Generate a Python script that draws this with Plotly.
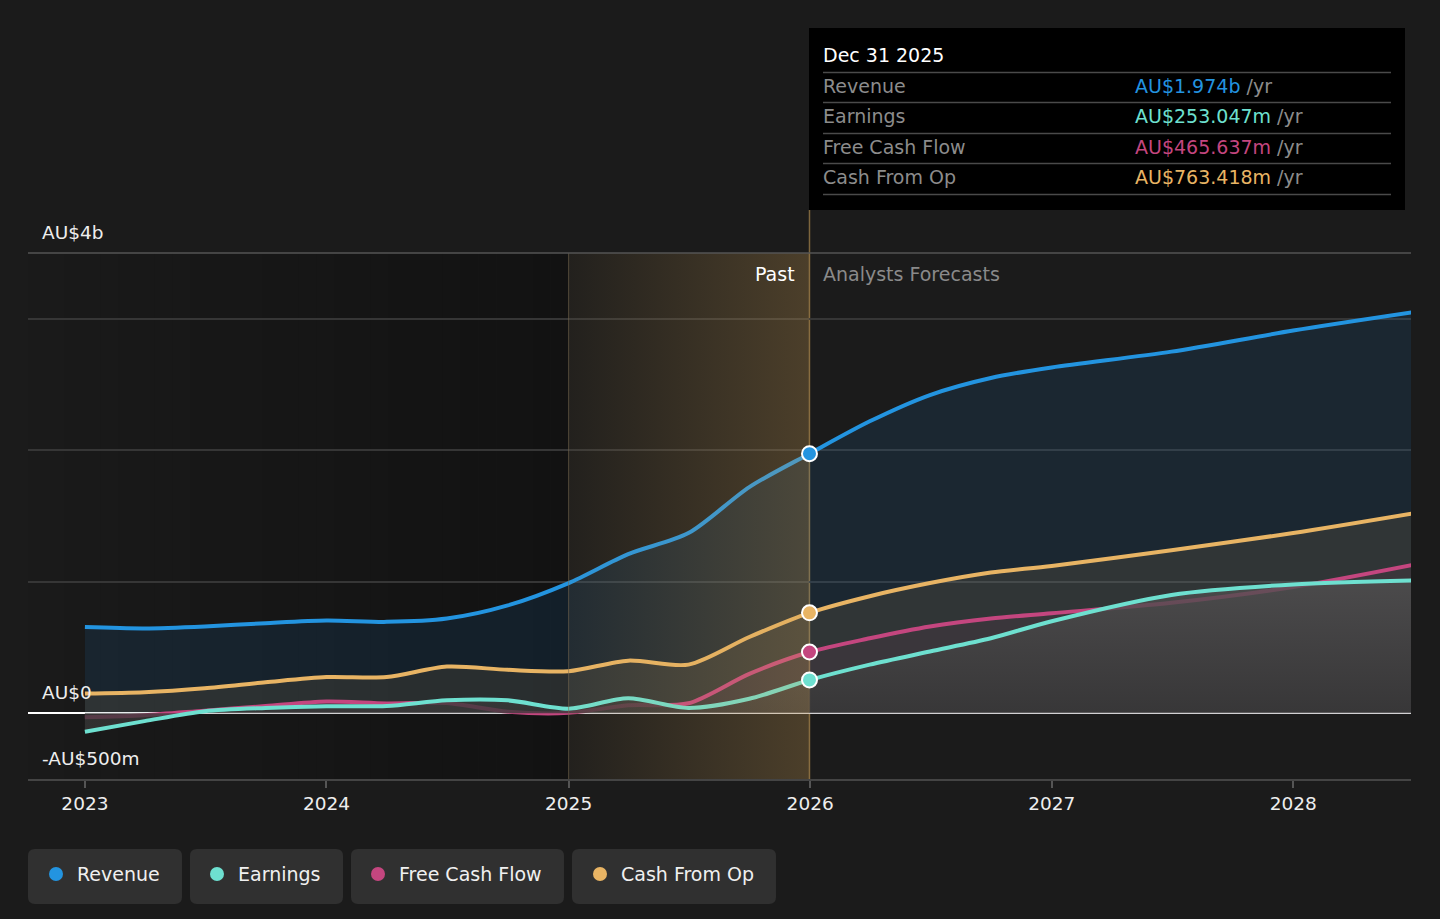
import plotly.graph_objects as go
import pandas as pd

# ---------------- data (AU$ billions) ----------------
dates = ["2023-01-01", "2023-04-01", "2023-07-01", "2023-10-01", "2024-01-01", "2024-04-01",
         "2024-07-01", "2024-10-01", "2025-01-01", "2025-04-01", "2025-07-01", "2025-10-01",
         "2025-12-31", "2026-04-01", "2026-07-01", "2026-10-01", "2027-01-01", "2027-07-01",
         "2028-01-01", "2028-07-01"]
revenue = [0.655, 0.645, 0.66, 0.685, 0.705, 0.695, 0.72, 0.82, 0.99, 1.21, 1.37, 1.72,
           1.974, 2.22, 2.42, 2.55, 2.63, 2.75, 2.91, 3.05]
earnings = [-0.14, -0.06, 0.015, 0.04, 0.053, 0.055, 0.098, 0.098, 0.035, 0.114, 0.04, 0.11,
            0.253047, 0.37, 0.47, 0.57, 0.70, 0.90, 0.98, 1.01]
free_cash_flow = [-0.03, -0.015, 0.02, 0.055, 0.09, 0.075, 0.078, 0.012, 0.003, 0.06, 0.076, 0.30,
                  0.465637, 0.57, 0.66, 0.72, 0.76, 0.84, 0.96, 1.13]
cash_from_op = [0.15, 0.16, 0.19, 0.235, 0.275, 0.275, 0.355, 0.33, 0.32, 0.40, 0.37, 0.58,
                0.763418, 0.89, 0.99, 1.07, 1.12, 1.24, 1.37, 1.52]

series_names = ["Revenue", "Earnings", "Free Cash Flow", "Cash From Op"]
year_ticks = ["2023-01-01", "2024-01-01", "2025-01-01", "2026-01-01", "2027-01-01", "2028-01-01"]
year_labels = ["2023", "2024", "2025", "2026", "2027", "2028"]
y_label_vals = [3.5, 0, -0.5]
y_label_text = ["AU$4b", "AU$0", "-AU$500m"]
tooltip_date = "Dec 31 2025"
past_start = "2025-01-01"
now_date = "2025-12-31"
x_range = ["2022-10-07", "2028-06-27"]
y_range = [-0.5, 3.5]

# ---------------- style ----------------
BG = "#1b1b1b"
C_REV = "#2394e0"
C_EARN = "#6ee0d0"
C_FCF = "#c4467f"
C_CFO = "#e8b464"
FONT = "DejaVu Sans"

W, H = 1440, 919
L, R, T, B = 28, 29, 253, 140
PW, PH = W - L - R, H - T - B


def pxx(x):
    return (x - L) / PW


def pxy(y):
    return (H - B - y) / PH


fig = go.Figure()

series = [
    (revenue, C_REV, dict(fillcolor="rgba(33,150,243,0.10)")),
    (cash_from_op, C_CFO, dict(fillcolor="rgba(232,181,99,0.10)")),
    (free_cash_flow, C_FCF, dict(fillcolor="rgba(197,70,127,0.07)")),
    (earnings, C_EARN, dict(fillgradient=dict(type="vertical", start=0, stop=1.0,
                                              colorscale=[[0, "rgba(55,55,55,0.78)"],
                                                          [1, "rgba(80,80,80,0.78)"]]))),
]
for vals, col, fillkw in series:
    fig.add_trace(go.Scatter(
        x=dates, y=vals, mode="lines", line=dict(color=col, width=4, shape="spline", smoothing=0.8),
        fill="tozeroy", hoverinfo="skip", **fillkw))

# past band overlay (above lines, below markers)
fig.add_trace(go.Scatter(
    x=[past_start, now_date, now_date, past_start, past_start],
    y=[y_range[0], y_range[0], y_range[1], y_range[1], y_range[0]],
    mode="none", fill="toself", hoverinfo="skip",
    fillgradient=dict(type="horizontal",
                      colorscale=[[0, "rgba(215,165,85,0.04)"], [1, "rgba(215,165,85,0.26)"]])))

ni = dates.index(now_date)
for vals, col, _ in series:
    fig.add_trace(go.Scatter(
        x=[dates[ni]], y=[vals[ni]], mode="markers",
        marker=dict(size=15, color=col, line=dict(color="white", width=2)), hoverinfo="skip"))

shapes = []
# darker past region gradient
t0 = pd.Timestamp(x_range[0])
t1 = pd.Timestamp(past_start)
N = 30
for i in range(N):
    a = t0 + (t1 - t0) * i / N
    b = t0 + (t1 - t0) * (i + 1) / N
    alpha = 0.02 + 0.30 * (i + 0.5) / N
    shapes.append(dict(type="rect", xref="x", yref="paper", x0=a, x1=b, y0=0, y1=1,
                       fillcolor=f"rgba(0,0,0,{alpha:.3f})", line=dict(width=0), layer="below"))
# vertical lines
shapes.append(dict(type="line", xref="x", yref="paper", x0=past_start, x1=past_start, y0=0, y1=1,
                   line=dict(color="rgba(120,105,80,0.6)", width=1)))
shapes.append(dict(type="line", xref="x", yref="paper", x0=now_date, x1=now_date, y0=0, y1=pxy(210),
                   line=dict(color="rgba(150,120,70,0.8)", width=1.5), layer="below"))
# top line of plot
shapes.append(dict(type="line", xref="paper", yref="paper", x0=0, x1=1, y0=1, y1=1,
                   line=dict(color="#555555", width=1.5)))

# tooltip box
shapes.append(dict(type="rect", xref="paper", yref="paper", x0=pxx(809), x1=pxx(1405),
                   y0=pxy(210), y1=pxy(28), fillcolor="#000000", line=dict(width=0), layer="above"))
for yy in [72.5, 102.5, 133.5, 163.5, 194.5]:
    shapes.append(dict(type="line", xref="paper", yref="paper", x0=pxx(823), x1=pxx(1391),
                       y0=pxy(yy), y1=pxy(yy), line=dict(color="#4a4a4a", width=1.5), layer="above"))

DX = -2  # annotation padding compensation
annotations = []
annotations.append(dict(xref="paper", yref="paper", x=pxx(823 + DX), y=pxy(55), text=tooltip_date,
                        showarrow=False, xanchor="left", yanchor="middle",
                        font=dict(family=FONT, size=19, color="#ffffff")))
ends = [revenue[ni], earnings[ni], free_cash_flow[ni], cash_from_op[ni]]
cols = [C_REV, C_EARN, C_FCF, C_CFO]
for k, (nm, v, c) in enumerate(zip(series_names, ends, cols)):
    yy = [86, 116, 147, 177][k]
    vt = f"AU${v:.3f}b" if k == 0 else f"AU${v * 1000:.3f}m"
    annotations.append(dict(xref="paper", yref="paper", x=pxx(823 + DX), y=pxy(yy), text=nm,
                            showarrow=False, xanchor="left", yanchor="middle",
                            font=dict(family=FONT, size=19, color="#8c8c8c")))
    annotations.append(dict(xref="paper", yref="paper", x=pxx(1135 + DX), y=pxy(yy),
                            text=f"<span style='color:{c}'>{vt}</span> /yr",
                            showarrow=False, xanchor="left", yanchor="middle",
                            font=dict(family=FONT, size=19, color="#8c8c8c")))

# Past / Analysts Forecasts
annotations.append(dict(xref="paper", yref="paper", x=pxx(795 - DX), y=pxy(274), text="Past",
                        showarrow=False, xanchor="right", yanchor="middle",
                        font=dict(family=FONT, size=19, color="#ffffff")))
annotations.append(dict(xref="paper", yref="paper", x=pxx(823 + DX), y=pxy(274), text="Analysts Forecasts",
                        showarrow=False, xanchor="left", yanchor="middle",
                        font=dict(family=FONT, size=19, color="#8a8a8a")))

# y labels
for v, t in zip(y_label_vals, y_label_text):
    ypix = H - B - (v - y_range[0]) / (y_range[1] - y_range[0]) * PH
    annotations.append(dict(xref="paper", yref="paper", x=pxx(42 + DX), y=pxy(ypix - 21), text=t,
                            showarrow=False, xanchor="left", yanchor="middle",
                            font=dict(family=FONT, size=18.5, color="#eeeeee")))

# legend pills
pills = [(28, 182, 56, 77), (190, 343, 217, 238), (351, 564, 378, 399), (572, 776, 600, 621)]
py0, py1, rad = 849, 904, 7
for (x0, x1, dx, tx), nm, c in zip(pills, series_names, cols):
    def P(x, y):
        return f"{pxx(x):.6f},{pxy(y):.6f}"
    path = (f"M {P(x0 + rad, py0)} L {P(x1 - rad, py0)} Q {P(x1, py0)} {P(x1, py0 + rad)} "
            f"L {P(x1, py1 - rad)} Q {P(x1, py1)} {P(x1 - rad, py1)} L {P(x0 + rad, py1)} "
            f"Q {P(x0, py1)} {P(x0, py1 - rad)} L {P(x0, py0 + rad)} Q {P(x0, py0)} {P(x0 + rad, py0)} Z")
    shapes.append(dict(type="path", xref="paper", yref="paper", path=path,
                       fillcolor="#303030", line=dict(width=0)))
    shapes.append(dict(type="circle", xref="paper", yref="paper", x0=pxx(dx - 7), x1=pxx(dx + 7),
                       y0=pxy(874 + 7), y1=pxy(874 - 7), fillcolor=c, line=dict(width=0)))
    annotations.append(dict(xref="paper", yref="paper", x=pxx(tx + DX), y=pxy(874), text=nm,
                            showarrow=False, xanchor="left", yanchor="middle",
                            font=dict(family=FONT, size=19, color="#f0f0f0")))

fig.update_layout(
    width=W, height=H, margin=dict(l=L, r=R, t=T, b=B, pad=0),
    paper_bgcolor=BG, plot_bgcolor=BG, showlegend=False, hovermode=False,
    font=dict(family=FONT, color="#eeeeee"),
    shapes=shapes, annotations=annotations,
    xaxis=dict(type="date", range=x_range, tickvals=year_ticks, ticktext=year_labels,
               showgrid=False, zeroline=False, showline=True, linecolor="#444444", linewidth=1.5,
               ticks="outside", ticklen=7, tickcolor="#555555", tickwidth=1.5,
               tickfont=dict(family=FONT, size=18.5, color="#eeeeee"), fixedrange=True),
    yaxis=dict(range=y_range, tickvals=[1, 2, 3], showticklabels=False, showgrid=True,
               gridcolor="#363636", gridwidth=1.5, zeroline=True, zerolinecolor="#ffffff",
               zerolinewidth=1.5, showline=False, fixedrange=True),
)

fig.write_html(
    "out.html",
    config={"displayModeBar": False},
    post_script="document.body.style.margin='0';document.body.style.overflow='hidden';"
                "document.body.style.background='#1b1b1b';",
)
